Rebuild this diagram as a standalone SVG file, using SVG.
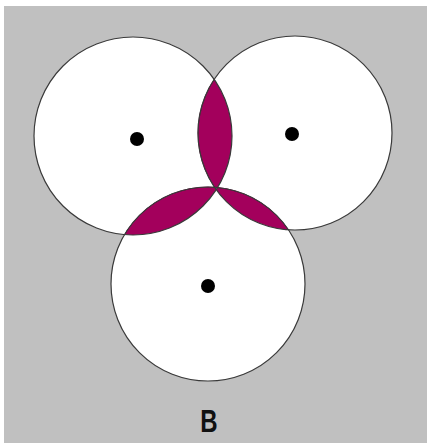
<svg xmlns="http://www.w3.org/2000/svg" width="427" height="443" viewBox="0 0 427 443">
  <style>
    .disc { fill: #ffffff; stroke: none; }
    .ring { fill: none; stroke: #3a3a3a; stroke-width: 1.2; }
    .dot { fill: #000000; }
    .lens { fill: #a3005c; stroke: #5a0030; stroke-width: 0.8; }
    .label { font-family: "Liberation Sans", Arial, sans-serif; font-size: 32px; font-weight: bold; fill: #111111; }
  </style>
  <defs>
    <clipPath id="clipL"><circle cx="133" cy="136" r="99"/></clipPath>
    <clipPath id="clipR"><circle cx="295" cy="133" r="97"/></clipPath>
    <clipPath id="clipB"><circle cx="208" cy="284" r="97"/></clipPath>
  </defs>
  <rect x="0" y="0" width="427" height="443" fill="#ffffff"/>
  <rect x="4" y="6" width="423" height="437" fill="#c0c0c0"/>

  <g id="discs">
    <circle class="disc" cx="133" cy="136" r="99"/>
    <circle class="disc" cx="295" cy="133" r="97"/>
    <circle class="disc" cx="208" cy="284" r="97"/>
  </g>

  <g id="overlaps">
    <circle class="lens" cx="295" cy="133" r="97" clip-path="url(#clipL)"/>
    <circle class="lens" cx="208" cy="284" r="97" clip-path="url(#clipL)"/>
    <circle class="lens" cx="208" cy="284" r="97" clip-path="url(#clipR)"/>
    <g clip-path="url(#clipL)">
      <circle class="disc" cx="208" cy="284" r="97" clip-path="url(#clipR)"/>
    </g>
  </g>

  <g id="connectors"></g>

  <g id="circle-left">
    <circle class="ring" cx="133" cy="136" r="99"/>
    <circle class="dot" cx="137" cy="139" r="7"/>
  </g>
  <g id="circle-right">
    <circle class="ring" cx="295" cy="133" r="97"/>
    <circle class="dot" cx="292" cy="134" r="7"/>
  </g>
  <g id="circle-bottom">
    <circle class="ring" cx="208" cy="284" r="97"/>
    <circle class="dot" cx="208" cy="286" r="7"/>
  </g>

  <g id="label">
    <text class="label" x="0" y="0" text-anchor="middle" transform="translate(209,432) scale(0.75,1)">B</text>
  </g>
</svg>
